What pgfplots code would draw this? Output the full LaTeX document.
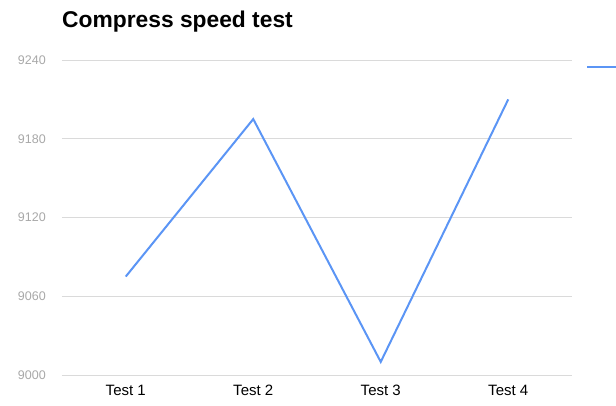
\documentclass[border=0pt]{standalone}
\usepackage{pgfplots}
\pgfplotsset{compat=1.18}
\usepackage{fontspec}
\setmainfont{Liberation Sans}
\definecolor{serblue}{HTML}{5B95F5}
\definecolor{gridc}{HTML}{DADADA}
\definecolor{tickc}{HTML}{A8A8A8}
\begin{document}
\begin{tikzpicture}[x=1pt,y=1pt]
\useasboundingbox (0,0) rectangle (616,405);
\node[anchor=base west,inner sep=0pt,font=\fontsize{22.8}{26}\selectfont\bfseries] at (62,377) {Compress speed test};
\begin{axis}[
  at={(62pt,30pt)}, anchor=south west,
  scale only axis, width=510pt, height=315pt,
  xmin=0.5, xmax=4.5, ymin=9000, ymax=9240,
  xtick={1,2,3,4}, xticklabels={Test 1,Test 2,Test 3,Test 4},
  ytick={9000,9060,9120,9180,9240},
  axis line style={draw=none},
  major tick length=0pt,
  ymajorgrids, grid style={gridc, line width=0.8pt},
  yticklabel style={anchor=east, inner sep=0pt, xshift=-16pt, text=tickc, font=\fontsize{12.5}{14}\selectfont},
  xticklabel style={anchor=north, inner sep=0pt, yshift=-10pt, font=\fontsize{15}{17}\selectfont},
  /pgf/number format/assume math mode=true,
  /pgf/number format/1000 sep={},
  clip=false,
  legend style={at={(rel axis cs:1.0275,0.978)}, anchor=west, draw=none, inner sep=0pt, fill=none, font=\fontsize{14}{16}\selectfont},
  legend image code/.code={\draw[#1] (0pt,0pt) -- (30pt,0pt);},
]
\addplot[serblue, line width=2pt, mark=none] coordinates {(1,9075) (2,9195) (3,9010) (4,9210)};
\addlegendentry{}
\end{axis}
\end{tikzpicture}
\end{document}
